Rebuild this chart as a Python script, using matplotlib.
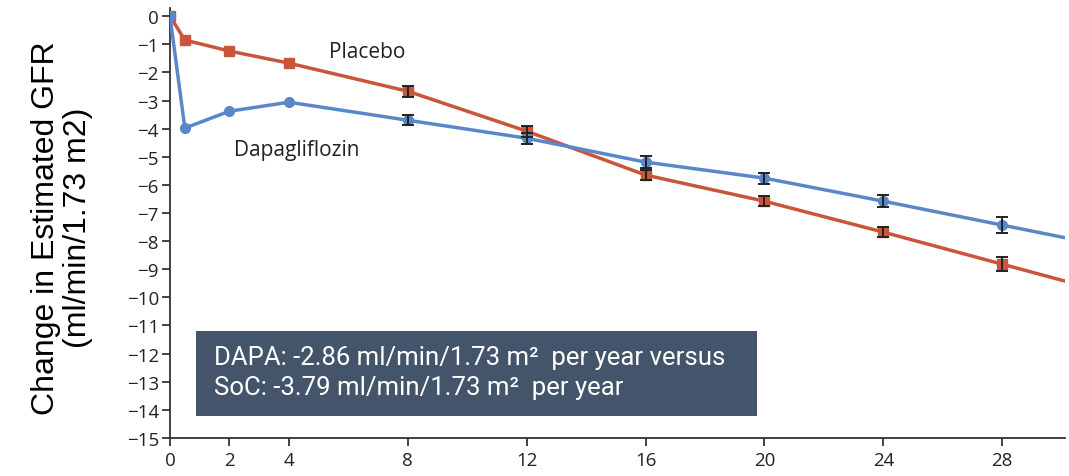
import matplotlib
matplotlib.use('Agg')
import matplotlib.pyplot as plt
from matplotlib.patches import Rectangle

# Weeks since randomisation and mean change in eGFR
weeks = [0, 0.5, 2, 4, 8, 12, 16, 20, 24, 28, 32]
placebo = [0, -0.85, -1.24, -1.67, -2.67, -4.09, -5.65, -6.58, -7.68, -8.82, -9.96]
placebo_err = [0, 0, 0, 0, 0.2, 0.2, 0.18, 0.18, 0.18, 0.25, 0]
dapa = [0, -3.98, -3.38, -3.06, -3.70, -4.34, -5.19, -5.76, -6.58, -7.43, -8.28]
dapa_err = [0, 0, 0, 0, 0.18, 0.2, 0.2, 0.2, 0.22, 0.28, 0]

x_ticks = [0, 2, 4, 8, 12, 16, 20, 24, 28]
y_ticks = list(range(0, -16, -1))

red = '#C9553A'
blue = '#5A87C8'
tick_font = 'Open Sans'

fig = plt.figure(figsize=(10.69, 4.77), dpi=100)
ax = fig.add_axes([0.159, 0.0797, 0.837, 0.902])

# lines first, error bars on top
ax.plot(weeks, placebo, '-', color=red, lw=2.5, marker='s', ms=7, zorder=3)
ax.plot(weeks, dapa, '-', color=blue, lw=2.5, marker='o', ms=7, zorder=3)
ax.errorbar(weeks[4:10], placebo[4:10], yerr=placebo_err[4:10], fmt='none',
            ecolor='#222222', elinewidth=1.4, capsize=4, capthick=1.4, zorder=4)
ax.errorbar(weeks[4:10], dapa[4:10], yerr=dapa_err[4:10], fmt='none',
            ecolor='#222222', elinewidth=1.4, capsize=4, capthick=1.4, zorder=4)

ax.set_xlim(0, 30.1)
ax.set_ylim(-15, 0.3)
ax.set_xticks(x_ticks)
ax.set_yticks(y_ticks)
ax.set_yticklabels([str(v).replace('-', '\u2212') for v in y_ticks])
ax.tick_params(direction='out', length=6, width=1.3, color='#333333',
               labelsize=13.5, labelcolor='#222222')
ax.tick_params(axis='y', pad=2)
for lab in ax.get_xticklabels() + ax.get_yticklabels():
    lab.set_fontfamily(tick_font)
ax.spines['top'].set_visible(False)
ax.spines['right'].set_visible(False)
for s in ('left', 'bottom'):
    ax.spines[s].set_linewidth(1.3)
    ax.spines[s].set_color('#333333')

ax.text(6.65, -1.24, 'Placebo', fontsize=15, family=tick_font,
        color='#222222', ha='center', va='center')
ax.text(4.25, -4.73, 'Dapagliflozin', fontsize=15, family=tick_font,
        color='#222222', ha='center', va='center')

fig.text(0.058, 0.522, 'Change in Estimated GFR\n(ml/min/1.73 m2)',
         rotation=90, ha='center', va='center', fontsize=23,
         family='Liberation Sans', linespacing=1.1)

# summary box
fig.patches.append(Rectangle((0.1834, 0.1258), 0.5248, 0.178,
                             transform=fig.transFigure, facecolor='#44546A',
                             edgecolor='none', zorder=5))
fig.text(0.2, 0.249, 'DAPA: -2.86 ml/min/1.73 m\u00b2  per year versus',
         color='white', fontsize=18.5, family='Roboto', va='center', zorder=6)
fig.text(0.2, 0.186, 'SoC: -3.79 ml/min/1.73 m\u00b2  per year',
         color='white', fontsize=18.5, family='Roboto', va='center', zorder=6)

fig.savefig('out.png', dpi=100)
